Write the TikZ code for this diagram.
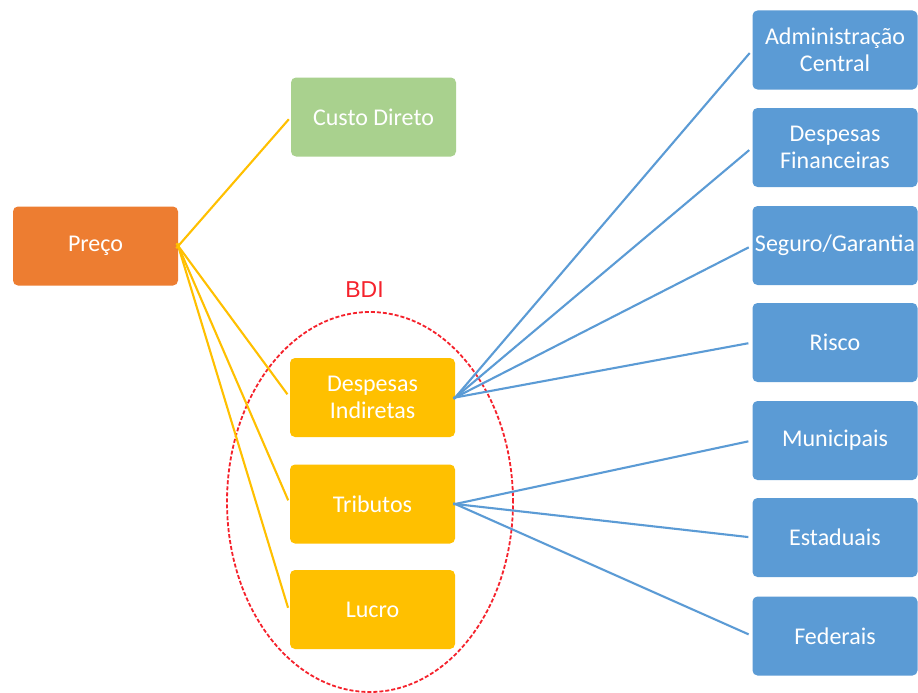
\documentclass[tikz,border=0pt]{standalone}
\usepackage{fontspec}
\usetikzlibrary{shapes.geometric}
\setmainfont{Carlito}
\newfontfamily\bdifont{Liberation Sans}
\definecolor{orangeC}{HTML}{ED7D31}
\definecolor{greenC}{HTML}{A9D18E}
\definecolor{yellowC}{HTML}{FFC000}
\definecolor{blueC}{HTML}{5B9BD5}
\definecolor{redC}{HTML}{F5222C}
\begin{document}
\begin{tikzpicture}[x=1pt,y=-1pt,
  box/.style={rectangle, rounded corners=5pt, minimum width=165pt, minimum height=79pt,
    inner sep=0pt, text=white, align=center, font=\fontsize{24}{27.5}\selectfont},
  obox/.style={box, fill=orangeC},
  gbox/.style={box, fill=greenC},
  ybox/.style={box, fill=yellowC},
  bbox/.style={box, fill=blueC},
  yline/.style={draw=yellowC, line width=2.1pt},
  bline/.style={draw=blueC, line width=2.1pt}]
\useasboundingbox[fill=white] (0,0) rectangle (918,693);
% BDI ellipse
\node[draw=redC, dash pattern=on 4pt off 2pt, line width=1.8pt, ellipse, minimum width=286pt, minimum height=380pt, inner sep=0pt] (bdi) at (370,502) {};
\node[text=redC, font=\bdifont\fontsize{23}{27}\selectfont, inner sep=0pt] (bdilabel) at (364.5,290) {BDI};
% nodes
\node[obox] (pre) at (95.5,246) {Preço};
\node[gbox] (cd) at (373.5,117) {Custo Direto};
\node[ybox] (di) at (372.5,397.5) {Despesas\\Indiretas};
\node[ybox] (tr) at (372.5,504) {Tributos};
\node[ybox] (lu) at (372.5,609.5) {Lucro};
\node[bbox] (adm) at (835,50) {Administração\\Central};
\node[bbox] (df) at (835,147.5) {Despesas\\Financeiras};
\node[bbox] (sg) at (835,245.5) {Seguro/Garantia};
\node[bbox] (ri) at (835,342.5) {Risco};
\node[bbox] (mu) at (835,440.5) {Municipais};
\node[bbox] (es) at (835,537.5) {Estaduais};
\node[bbox] (fe) at (835,636) {Federais};
% yellow connectors
\draw[yline, shorten <=-3pt, shorten >=3pt] (pre.east) -- (cd.west);
\draw[yline, shorten <=-3pt, shorten >=4pt] (pre.east) -- (di.west);
\draw[yline, shorten <=-3pt, shorten >=4pt] (pre.east) -- (tr.west);
\draw[yline, shorten <=-3pt, shorten >=6pt] (pre.east) -- ([yshift=-4pt]lu.west);
% blue connectors
\foreach \t in {adm,df,sg,ri}
  \draw[bline, shorten <=-2pt, shorten >=4pt] (di.east) -- (\t.west);
\foreach \t in {mu,es,fe}
  \draw[bline, shorten <=-2pt, shorten >=4pt] (tr.east) -- (\t.west);
\end{tikzpicture}
\end{document}
